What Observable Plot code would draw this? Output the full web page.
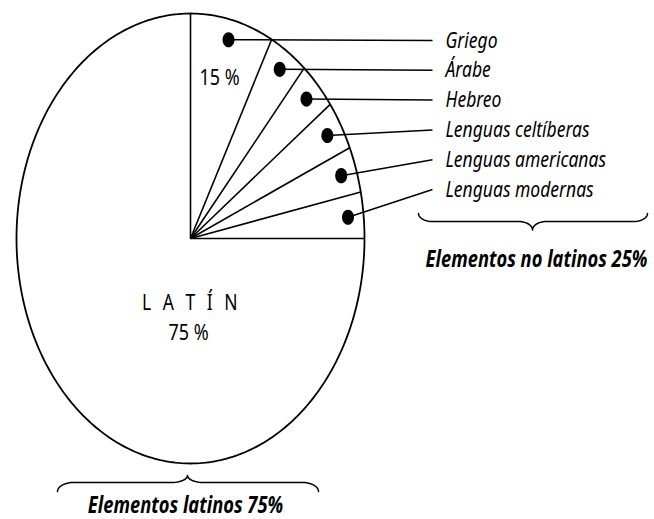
<!DOCTYPE html>
<html>
<head>
<meta charset="utf-8">
<script src="https://cdn.jsdelivr.net/npm/d3@7"></script>
<script src="https://cdn.jsdelivr.net/npm/@observablehq/plot@0.6"></script>
<style>
  html, body { margin: 0; padding: 0; background: #fff; }
  svg { display: block; }
</style>
</head>
<body>
<div id="chart"></div>
<script>
// ---------- data ----------
const latinLabel = "L A T Í N";
const latinShare = 75;               // % of the circle
const latinShareText = "75 %";
const nonLatin = ["Griego", "Árabe", "Hebreo", "Lenguas celtíberas", "Lenguas americanas", "Lenguas modernas"];
const nonLatinShares = [7.72, 3.61, 3.5, 3.56, 3.3, 3.31]; // % of the circle as drawn
const firstSliceText = "15 %";
const groupLabels = ["Elementos no latinos 25%", "Elementos latinos 75%"];

// ---------- layout ----------
const W = 654, H = 519;
const CX = 190, CY = 238, RX = 174, RY = 225; // pie centre and radii (px)
const STRETCH = 1.22;                          // vertical stretch of lettering
const FONT = "'Noto Sans', 'Open Sans', sans-serif";
const px = v => (v - CX) / RX;   // pixel -> pie units
const py = v => (CY - v) / RY;

const rad = p => p / 100 * 2 * Math.PI;
// cumulative boundaries, clockwise from 12 o'clock
const cum = [0];
nonLatinShares.forEach((s, i) => cum.push(cum[i] + s));
const boundaries = cum.map(c => ({a: rad(c)}));
const slices = nonLatin.map((name, i) => ({name, i, mid: rad((cum[i] + cum[i + 1]) / 2)}));

const outline = d3.range(0, 361).map(deg => ({x: Math.sin(deg * Math.PI / 180), y: Math.cos(deg * Math.PI / 180)}));

const rowY = i => py(40 + i * 29.8);
const leaderEnd = px(432);
const labelX = px(445);
const dotR = 0.91;

// brace generator (pixel space -> pie units); hEnd/hMid in pixels, + = downwards
function brace(x0, x1, xm, yb, hEnd, hMid, q) {
  const n = 12;
  const half = (xa, xb, sgn) => {
    const pts = [];
    for (let k = 0; k <= n; k++) {
      const f = k / n * Math.PI / 2;
      pts.push([xa + sgn * q * (1 - Math.cos(f)), yb + hEnd * (1 - Math.sin(f))]);
    }
    for (let k = 0; k <= n; k++) {
      const f = k / n * Math.PI / 2;
      pts.push([xb - sgn * q + sgn * q * Math.sin(f), yb + hMid * (1 - Math.cos(f))]);
    }
    return pts;
  };
  const left = half(x0, xm, 1);
  const right = half(x1, xm, -1).reverse();
  return left.concat(right).map(([x, y]) => ({x: px(x), y: py(y)}));
}
const upperBrace = brace(418, 647, 532, 221, -8, 8.5, 14);
const lowerBrace = brace(57, 318, 187, 482, 9, -7, 16);

// ellipse symbol for the bullet dots
const ellipseSymbol = {
  draw(ctx) {
    const a = 6, b = 7.6, k = 0.5523;
    ctx.moveTo(a, 0);
    ctx.bezierCurveTo(a, b * k, a * k, b, 0, b);
    ctx.bezierCurveTo(-a * k, b, -a, b * k, -a, 0);
    ctx.bezierCurveTo(-a, -b * k, -a * k, -b, 0, -b);
    ctx.bezierCurveTo(a * k, -b, a, -b * k, a, 0);
    ctx.closePath();
  }
};

const chart = Plot.plot({
  width: W,
  height: H,
  margin: 0,
  x: {domain: [px(0), px(W)], axis: null},
  y: {domain: [py(H), py(0)], axis: null},
  style: {background: "white", fontFamily: FONT, color: "black"},
  marks: [
    Plot.line(outline, {x: "x", y: "y", stroke: "black", strokeWidth: 1.8}),
    Plot.link(boundaries, {x1: () => 0, y1: () => 0, x2: d => Math.sin(d.a), y2: d => Math.cos(d.a), stroke: "black", strokeWidth: 1.6}),
    Plot.link(slices, {
      x1: d => dotR * Math.sin(d.mid), y1: d => dotR * Math.cos(d.mid),
      x2: () => leaderEnd, y2: d => rowY(d.i),
      stroke: "black", strokeWidth: 1.5
    }),
    Plot.dot(slices, {x: d => dotR * Math.sin(d.mid), y: d => dotR * Math.cos(d.mid), symbol: ellipseSymbol, fill: "black", stroke: "none"}),
    Plot.text(slices, {x: () => labelX, y: d => rowY(d.i), text: "name", textAnchor: "start", fontSize: 17.5, fontStyle: "italic", fill: "black"}),
    Plot.text([firstSliceText], {x: () => px(219), y: () => py(77), text: d => d, fontSize: 18, fill: "black"}),
    Plot.text([latinLabel], {x: () => px(191), y: () => py(302), text: d => d, fontSize: 17.5, fill: "black"}),
    Plot.text([latinShareText], {x: () => px(188), y: () => py(332), text: d => d, fontSize: 18, fill: "black"}),
    Plot.line(upperBrace, {x: "x", y: "y", stroke: "black", strokeWidth: 1.5}),
    Plot.line(lowerBrace, {x: "x", y: "y", stroke: "black", strokeWidth: 1.5}),
    Plot.text([groupLabels[0]], {x: () => px(536), y: () => py(259), text: d => d, fontSize: 18.3, fontStyle: "italic", fontWeight: "bold", fill: "black"}),
    Plot.text([groupLabels[1]], {x: () => px(185), y: () => py(505), text: d => d, fontSize: 18.3, fontStyle: "italic", fontWeight: "bold", fill: "black"})
  ]
});

document.getElementById("chart").append(chart);

// letter-spaced LATÍN label
chart.querySelectorAll("text").forEach(t => {
  if (t.textContent === latinLabel) t.style.letterSpacing = "3.5px";
});

// stretch lettering vertically (the reference artwork is taller than wide)
const NS = "http://www.w3.org/2000/svg";
chart.querySelectorAll("text").forEach(t => {
  const r = t.getBoundingClientRect();
  const parent = t.parentNode;
  const m = parent.getScreenCTM().inverse();
  const p = new DOMPoint(r.left + r.width / 2, r.top + r.height / 2).matrixTransform(m);
  const g = document.createElementNS(NS, "g");
  g.setAttribute("transform", `translate(0,${p.y}) scale(1,${STRETCH}) translate(0,${-p.y})`);
  parent.insertBefore(g, t);
  g.appendChild(t);
});
</script>
</body>
</html>
